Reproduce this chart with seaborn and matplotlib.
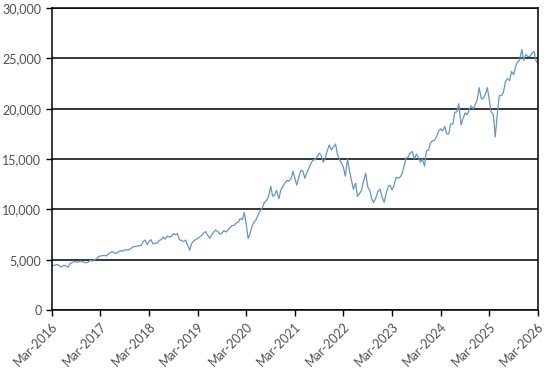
import numpy as np
import pandas as pd
import matplotlib
matplotlib.use('Agg')
import matplotlib.pyplot as plt
import matplotlib.dates as mdates
from matplotlib.ticker import FuncFormatter
import seaborn as sns

# semi-monthly readings (1st and 15th of each month)
v2016 = [4450, 4420, 4500, 4520, 4340, 4300, 4450, 4380, 4250, 4620,
         4730, 4800, 4780, 4760, 4880, 4800, 4750, 4700, 4780, 4950]
v2017 = [4860, 5000, 5100, 5300, 5380, 5400, 5430, 5380, 5600, 5720, 5800, 5650,
         5640, 5800, 5900, 5850, 5980, 5990, 6000, 6100, 6300, 6300, 6350, 6400]
v2018 = [6400, 6800, 6950, 6500, 6800, 7000, 6550, 6650, 6650, 6900, 7000, 7250,
         7050, 7350, 7250, 7300, 7600, 7500, 7600, 7000, 6900, 6800, 6950, 6500]
v2019 = [5950, 6600, 6900, 7000, 7100, 7250, 7400, 7650, 7800, 7450, 7130, 7500,
         7750, 7950, 7800, 7550, 7650, 7900, 7750, 7950, 8200, 8400, 8400, 8650]
v2020 = [8730, 9100, 9000, 9700, 8500, 7100, 7700, 8400, 8800, 9000, 9550, 9900,
         10200, 10700, 10900, 11250, 12300, 11300, 11450, 11900, 11050, 11900, 12300, 12600]
v2021 = [12890, 12800, 13100, 13800, 13100, 12400, 13250, 13900, 13800, 13100, 13700, 14100,
         14600, 14900, 14950, 15200, 15600, 15350, 14700, 15100, 15900, 16400, 15900, 16200]
v2022 = [16500, 15500, 14900, 14600, 14200, 13300, 15000, 13900, 12850, 12000, 12600, 11300,
         11600, 11900, 12900, 13600, 12200, 11900, 11000, 10700, 11200, 11800, 12000, 11300]
v2023 = [10700, 11500, 12300, 12400, 11950, 12300, 13200, 13100, 13200, 13500, 14400, 15100,
         15180, 15600, 15750, 15000, 15500, 15200, 14700, 15000, 14300, 15800, 15900, 16600]
v2024 = [16830, 16850, 17300, 17800, 18000, 17800, 18250, 17500, 17500, 18500, 18500, 19650,
         19700, 20500, 18400, 19000, 19600, 19400, 19900, 20300, 20000, 20400, 20900, 22100]
v2025 = [21000, 21000, 21500, 22100, 20900, 19700, 19400, 17200, 19500, 21300, 21300, 21600,
         22700, 23000, 22800, 23700, 23400, 24200, 24700, 24800, 25900, 24800, 25400, 25200]
v2026 = [25200, 25500, 25700, 24800, 24500]

values = v2016 + v2017 + v2018 + v2019 + v2020 + v2021 + v2022 + v2023 + v2024 + v2025 + v2026
dates = pd.date_range('2016-03-01', '2026-03-01', freq='SMS')
df = pd.DataFrame({'date': dates, 'value': values})

tick_dates = pd.date_range('2016-03-01', '2026-03-01', freq='12MS')
y_ticks = [0, 5000, 10000, 15000, 20000, 25000, 30000]

sns.set_style('white')
plt.rcParams['font.family'] = ['Lato', 'DejaVu Sans']

fig, ax = plt.subplots(figsize=(5.46, 3.70), dpi=100)
fig.subplots_adjust(left=0.095, right=0.985, top=0.978, bottom=0.162)

sns.lineplot(data=df, x='date', y='value', ax=ax, color='#6496c2', linewidth=0.9)

ax.set_xlim(dates[0], dates[-1])
ax.set_ylim(0, 30000)
ax.set_yticks(y_ticks)
ax.yaxis.set_major_formatter(FuncFormatter(lambda v, p: f'{int(v):,}'))
ax.set_xticks(tick_dates)
ax.xaxis.set_major_formatter(mdates.DateFormatter('%b-%Y'))
ax.set_xlabel('')
ax.set_ylabel('')

ax.grid(axis='y', color='black', linewidth=1.1)
ax.set_axisbelow(True)
for side in ['left', 'right', 'bottom', 'top']:
    ax.spines[side].set_visible(True)
    ax.spines[side].set_color('black')
    ax.spines[side].set_linewidth(1.1)

ax.tick_params(axis='both', which='major', direction='out', length=4, width=1,
               color='black', labelsize=9, labelcolor='#505050', bottom=True, left=True)
plt.setp(ax.get_xticklabels(), rotation=45, ha='right', rotation_mode='anchor')

fig.savefig('out.png', dpi=100)
plt.close(fig)
